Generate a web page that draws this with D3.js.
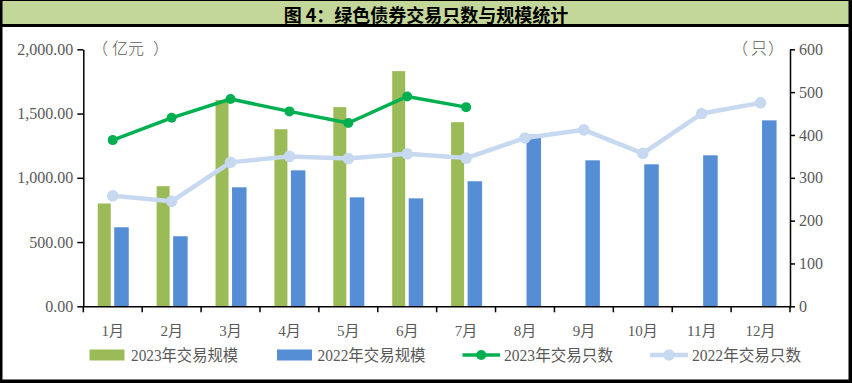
<!DOCTYPE html>
<html><head><meta charset="utf-8">
<script src="https://cdn.jsdelivr.net/npm/d3@7"></script>
<style>
html,body{margin:0;padding:0;background:#fff;}
svg{display:block;}
</style></head>
<body>
<svg id="chart" width="852" height="383"></svg>
<script>
const months = ["1月","2月","3月","4月","5月","6月","7月","8月","9月","10月","11月","12月"];
const scale2023 = [800, 935, 1605, 1378, 1550, 1830, 1433];
const scale2022 = [615, 545, 926, 1058, 848, 840, 973, 1336, 1136, 1105, 1175, 1447];
const count2023 = [388, 440, 484, 455, 428, 490, 465];
const count2022 = [258, 245, 336, 350, 345, 356, 346, 393, 412, 357, 450, 475];
const leftTicks = [0, 500, 1000, 1500, 2000];
const rightTicks = [0, 100, 200, 300, 400, 500, 600];
const seriesNames = ["2023年交易规模","2022年交易规模","2023年交易只数","2022年交易只数"];
const titleText = "图 4：绿色债券交易只数与规模统计";

const C = {g:"#9bbb59", b:"#558ed5", lg:"#00b050", lb:"#c6d9f1", txt:"#595959"};
const svg = d3.select("#chart");
svg.append("rect").attr("width",852).attr("height",383).attr("fill","#fff");

// title bar
svg.append("rect").attr("x",0).attr("y",0).attr("width",852).attr("height",25).attr("fill","#c4d79b");
svg.append("text").attr("x",426).attr("y",14).attr("text-anchor","middle").attr("dominant-baseline","central")
  .attr("font-family","'Noto Sans CJK SC', sans-serif").attr("font-weight","bold").attr("font-size",18)
  .attr("fill","#000").text(titleText);
// borders
svg.append("rect").attr("x",0).attr("y",0).attr("width",852).attr("height",1).attr("fill","#000");
svg.append("rect").attr("x",0).attr("y",24).attr("width",852).attr("height",3).attr("fill","#000");
svg.append("rect").attr("x",0).attr("y",0).attr("width",2.5).attr("height",383).attr("fill","#000");
svg.append("rect").attr("x",848.5).attr("y",0).attr("width",3.5).attr("height",383).attr("fill","#000");
svg.append("rect").attr("x",0).attr("y",379.5).attr("width",852).attr("height",3.5).attr("fill","#000");

const L = 83.3, R = 790, T = 49.3, B = 306.3;
const x = d3.scaleBand().domain(months).range([L, R]).padding(0);
const yL = d3.scaleLinear().domain([0,2000]).range([B,T]);
const yR = d3.scaleLinear().domain([0,600]).range([B,T]);
const bw = x.bandwidth();
const cx = m => x(m) + bw/2;

// bars
svg.append("g").selectAll("rect").data(scale2023).join("rect")
  .attr("x",(d,i)=>cx(months[i]) - 15).attr("width",13)
  .attr("y",d=>yL(d)).attr("height",d=>B - yL(d)).attr("fill",C.g);
svg.append("g").selectAll("rect").data(scale2022).join("rect")
  .attr("x",(d,i)=>cx(months[i]) + 1.5).attr("width",14.5)
  .attr("y",d=>yL(d)).attr("height",d=>B - yL(d)).attr("fill",C.b);

// lines
function drawLine(data, color, w, r){
  const line = d3.line().x((d,i)=>cx(months[i])).y(d=>yR(d));
  svg.append("path").datum(data).attr("d",line).attr("fill","none").attr("stroke",color)
    .attr("stroke-width",w).attr("stroke-linejoin","round");
  svg.append("g").selectAll("circle").data(data).join("circle")
    .attr("cx",(d,i)=>cx(months[i])).attr("cy",d=>yR(d)).attr("r",r).attr("fill",color);
}
drawLine(count2022, C.lb, 4.5, 5.8);
drawLine(count2023, C.lg, 3.5, 5);

// axes
const fmt = d3.format(",.2f");
const axL = svg.append("g").attr("transform",`translate(${L},0)`)
  .call(d3.axisLeft(yL).tickValues(leftTicks).tickFormat(fmt).tickSize(6).tickPadding(4).tickSizeOuter(0));
const axR = svg.append("g").attr("transform",`translate(${R},0)`)
  .call(d3.axisRight(yR).tickValues(rightTicks).tickSize(5).tickPadding(4).tickSizeOuter(0));
const axB = svg.append("g").attr("transform",`translate(0,${B})`)
  .call(d3.axisBottom(x).tickSize(0).tickPadding(19));
[axL, axR, axB].forEach(a=>{
  a.select(".domain").attr("stroke","#000").attr("stroke-width",1.5);
  a.selectAll(".tick line").attr("stroke","#000").attr("stroke-width",1.5);
  a.selectAll("text").attr("fill",C.txt).attr("font-family","'Liberation Serif','Noto Sans CJK SC',serif").attr("font-size",16);
});
axB.selectAll("text").attr("font-size",15);
// x boundary ticks
const bounds = months.map(m=>x(m)).concat([R]);
svg.append("g").selectAll("line").data(bounds).join("line")
  .attr("x1",d=>d).attr("x2",d=>d).attr("y1",B).attr("y2",B+6)
  .attr("stroke","#000").attr("stroke-width",1.5);

// unit labels
function unit(parts){
  const t = svg.append("text").attr("y",47).attr("dominant-baseline","central")
    .attr("font-family","'Noto Sans CJK SC',sans-serif").attr("font-weight",300).attr("font-size",16).attr("fill",C.txt);
  parts.forEach(p=>t.append("tspan").attr("x",p[0]).text(p[1]));
}
unit([[92,"（"],[112,"亿元"],[153,"）"]]);
unit([[732,"（"],[751,"只"],[768,"）"]]);

// legend
const lg = svg.append("g");
const ly = 355;
const items = [
  {type:"rect", color:C.g, x0:89.5, x1:124.5, tx:131, tw:107},
  {type:"rect", color:C.b, x0:277, x1:312, tx:317.5, tw:108},
  {type:"line", color:C.lg, x0:462.5, x1:500, tx:504, tw:109, w:3.5, r:5},
  {type:"line", color:C.lb, x0:650, x1:688, tx:692, tw:109, w:4.5, r:5.8}
];
items.forEach((it,i)=>{
  if(it.type==="rect"){
    lg.append("rect").attr("x",it.x0).attr("y",ly-5.5).attr("width",it.x1-it.x0).attr("height",11).attr("fill",it.color);
  } else {
    lg.append("line").attr("x1",it.x0).attr("x2",it.x1).attr("y1",ly).attr("y2",ly).attr("stroke",it.color).attr("stroke-width",it.w);
    lg.append("circle").attr("cx",(it.x0+it.x1)/2).attr("cy",ly).attr("r",it.r).attr("fill",it.color);
  }
  lg.append("text").attr("x",it.tx).attr("y",ly).attr("dominant-baseline","central")
    .attr("font-family","'Liberation Serif','Noto Sans CJK SC',serif").attr("font-size",16).attr("fill",C.txt)
    .attr("textLength",it.tw).attr("lengthAdjust","spacingAndGlyphs").text(seriesNames[i]);
});
</script>
</body></html>
